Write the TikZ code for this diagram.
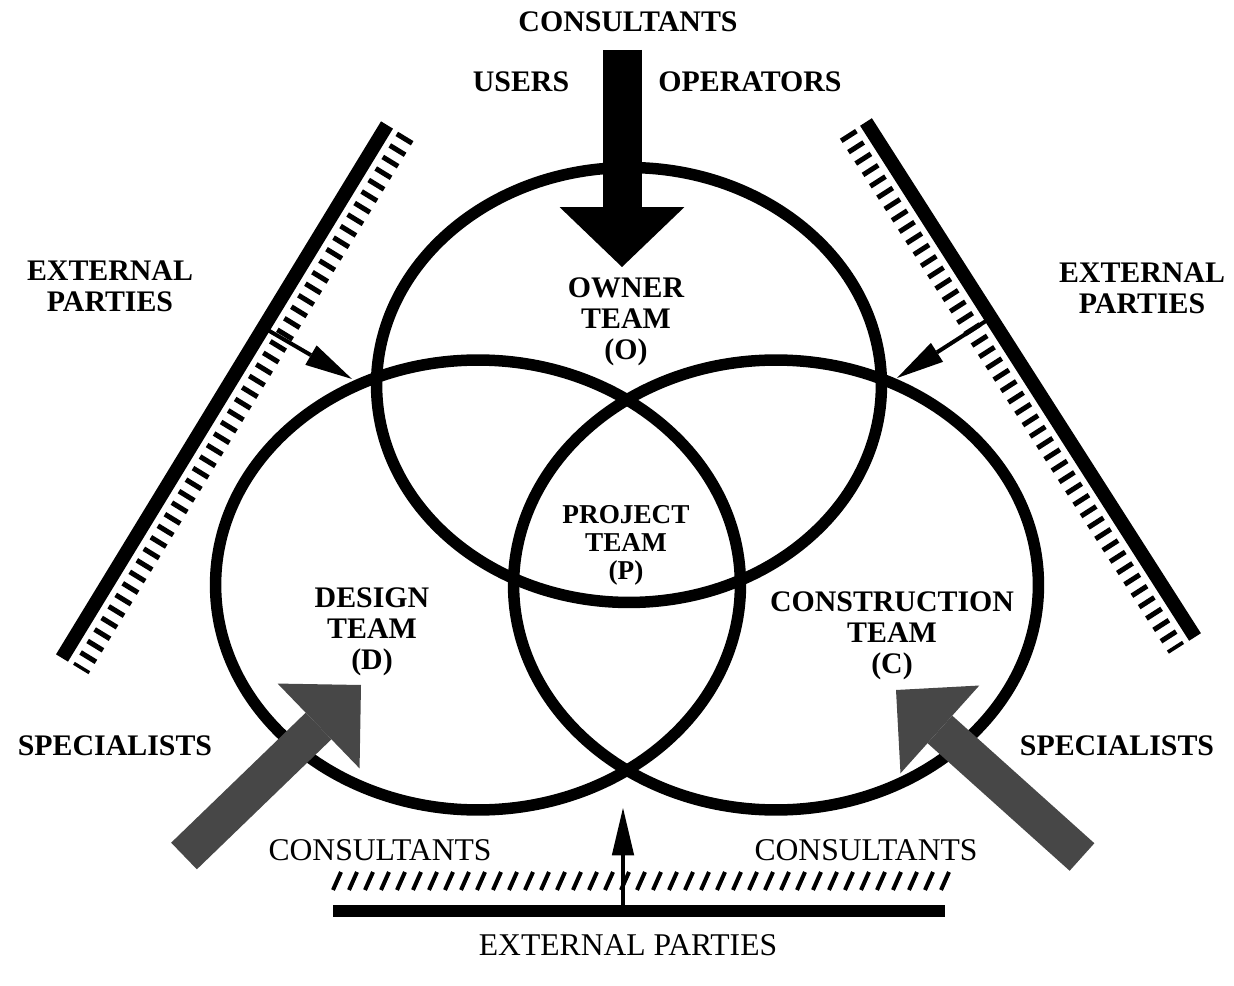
\documentclass[tikz,border=0pt]{standalone}
\usepackage{fontspec}
\setmainfont{Liberation Serif}
\usetikzlibrary{shapes.geometric, arrows.meta, calc}

\begin{document}
\begin{tikzpicture}[x=0.02cm, y=-0.02cm,
    team/.style={ellipse, draw=black, line width=0.23cm, inner sep=0pt},
    lbl/.style={font=\fontsize{17}{17.5}\selectfont\bfseries, align=center, inner sep=0pt},
    plain lbl/.style={font=\fontsize{18}{18}\selectfont, align=center, inner sep=0pt},
    wall/.style={line width=0.28cm},
    ticks/.style={line width=0.36cm, dash pattern=on 0.1cm off 0.17cm},
    slash/.style={line width=0.08cm},
    thin arrow/.style={line width=0.08cm, -{Triangle[length=0.95cm, width=0.45cm, line width=0pt]}},
    big arrow/.style={line width=0.78cm, -{Triangle[length=1.2cm, width=2.5cm, line width=0pt]}},
    fat arrow/.style={line width=0.74cm, draw=black!72, -{Triangle[length=1.18cm, width=2.36cm, line width=0pt]}}
  ]
  \useasboundingbox (0,0) rectangle (1234,986);

  \node[team, minimum width=10.1cm, minimum height=8.7cm] (owner) at (629,385) {};
  \node[team, minimum width=10.5cm, minimum height=9cm] (design) at (478,585) {};
  \node[team, minimum width=10.5cm, minimum height=9cm] (construct) at (776,585) {};

  \node[lbl] (topcons) at (628,22) {CONSULTANTS};
  \node[lbl] (users) at (521,82) {USERS};
  \node[lbl] (oper) at (750,82) {OPERATORS};
  \node[lbl] (extleft) at (110,286) {EXTERNAL\\PARTIES};
  \node[lbl] (extright) at (1142,288) {EXTERNAL\\PARTIES};
  \node[lbl] (ownerlbl) at (626,322) {OWNER\\TEAM\\(O)};
  \node[lbl, font=\fontsize{15.5}{16}\selectfont\bfseries] (projlbl) at (626,545) {PROJECT\\TEAM\\(P)};
  \node[lbl] (designlbl) at (372,632) {DESIGN\\TEAM\\(D)};
  \node[lbl] (constlbl) at (892,636) {CONSTRUCTION\\TEAM\\(C)};
  \node[lbl] (specleft) at (115,746) {SPECIALISTS};
  \node[lbl] (specright) at (1117,746) {SPECIALISTS};
  \node[plain lbl] (consleft) at (380,850) {CONSULTANTS};
  \node[plain lbl] (consright) at (866,850) {CONSULTANTS};
  \node[plain lbl] (extbottom) at (628,945) {EXTERNAL PARTIES};

  \coordinate (lt) at (387,125);
  \coordinate (lb) at (62,658);
  \coordinate (rt) at (866,122);
  \coordinate (rb) at (1195,637);
  \coordinate (bl) at (333,911);
  \coordinate (br) at (945,911);

  \draw[wall] (lt) -- (lb);
  \draw[ticks] ($(lt)!0.44cm!90:(lb)$) -- ($(lb)!0.44cm!-90:(lt)$);
  \draw[wall] (rt) -- (rb);
  \draw[ticks] ($(rt)!0.44cm!-90:(rb)$) -- ($(rb)!0.44cm!90:(rt)$);
  \draw[wall, line width=0.24cm] (bl) -- (br);
  \foreach \x in {333,349,...,941}
    \draw[slash] (\x,890) -- ++(8,-18);

  \coordinate (topfoot) at (622,50);
  \coordinate (ownerhit) at (622,267);
  \coordinate (lfoot) at ($(lt)!0.38!(lb)$);
  \coordinate (lhit) at (352,379);
  \coordinate (rfoot) at ($(rt)!0.38!(rb)$);
  \coordinate (rhit) at (897,378);
  \coordinate (bfoot) at (623,911);
  \coordinate (bhit) at (623,808);
  \coordinate (slfoot) at (184,856);
  \coordinate (slhit) at (361,685);
  \coordinate (srfoot) at (1082,857);
  \coordinate (srhit) at (896,690);

  \draw[big arrow] (topfoot) -- (ownerhit);
  \draw[thin arrow] (lfoot) -- (lhit);
  \draw[thin arrow] (rfoot) -- (rhit);
  \draw[thin arrow] (bfoot) -- (bhit);
  \draw[fat arrow] (slfoot) -- (slhit);
  \draw[fat arrow] (srfoot) -- (srhit);
\end{tikzpicture}
\end{document}
